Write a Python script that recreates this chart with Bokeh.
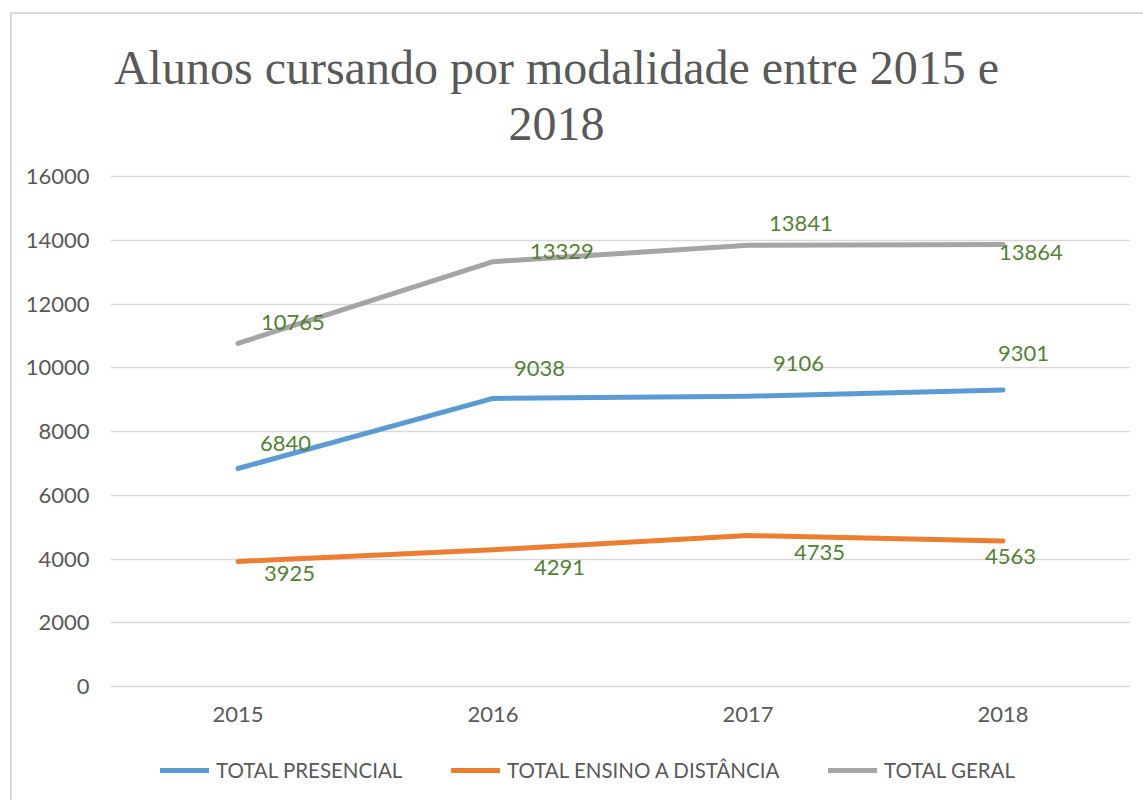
from bokeh.plotting import figure
from bokeh.models import (Range1d, FixedTicker, Label, LabelSet,
                          Legend, LegendItem, ColumnDataSource)
from bokeh.embed import file_html
from bokeh.resources import INLINE
from bokeh.core.properties import value

# ---------------- data ----------------
years = ["2015", "2016", "2017", "2018"]
presencial = [6840, 9038, 9106, 9301]
distancia = [3925, 4291, 4735, 4563]
geral = [10765, 13329, 13841, 13864]
series_names = ["TOTAL PRESENCIAL", "TOTAL ENSINO A DISTÂNCIA", "TOTAL GERAL"]
y_ticks = [0, 2000, 4000, 6000, 8000, 10000, 12000, 14000, 16000]
title_lines = ["Alunos cursando por modalidade entre 2015 e", "2018"]

# ---------------- style / layout ----------------
colors = ["#5B9BD5", "#ED7D31", "#A5A5A5"]
label_color = "#548235"
text_gray = "#595959"
# data-label offsets (px): left edge from point, and upward shift of label centre
label_dx = [[22, 21, 25, -5], [26, 41, 46, -18], [23, 37, 21, -4]]
label_dy = [[25, 30, 33, 37], [-12, -18, -17, -15], [21, 10, 22, -8]]

W, H = 1143, 800
ML, MR = 110, 13            # plot area left / right (px)
TOP_PX, ZERO_PX = 176, 686  # pixel rows of the top tick and of zero
frame_w = W - ML - MR
px_per_y = (ZERO_PX - TOP_PX) / y_ticks[-1]
px_per_x = frame_w / len(years)

def py_to_y(py):
    return (ZERO_PX - py) / px_per_y

def px_to_x(px):
    return -0.5 + (px - ML) / px_per_x

xs = list(range(len(years)))

p = figure(width=W, height=H,
           x_range=Range1d(-0.5, len(years) - 0.5),
           y_range=Range1d(py_to_y(H), py_to_y(0)),
           output_backend="svg", toolbar_location=None,
           min_border_left=ML, min_border_right=MR,
           min_border_top=0, min_border_bottom=0,
           styles={"background":
                   "linear-gradient(#D9D9D9, #D9D9D9) 10px 12px / calc(100% - 10px) 2px no-repeat, "
                   "linear-gradient(#D9D9D9, #D9D9D9) 10px 12px / 2px calc(100% - 12px) no-repeat, #FFFFFF"})
p.border_fill_color = None
p.background_fill_color = None
p.outline_line_color = None

# axes
for ax in (p.xaxis[0], p.yaxis[0]):
    ax.axis_line_color = None
    ax.major_tick_line_color = None
    ax.minor_tick_line_color = None
    ax.major_tick_out = 0
    ax.major_tick_in = 0
    ax.major_label_text_font = "Lato"
    ax.major_label_text_font_size = "22px"
    ax.major_label_text_color = text_gray
p.xaxis[0].fixed_location = 0
p.xaxis[0].ticker = FixedTicker(ticks=xs)
p.xaxis[0].major_label_overrides = {i: y for i, y in zip(xs, years)}
p.xaxis[0].major_label_standoff = 20
p.yaxis[0].major_label_standoff = 21
p.yaxis[0].ticker = FixedTicker(ticks=y_ticks)
p.xgrid.grid_line_color = None
p.ygrid.grid_line_color = "#D9D9D9"
p.ygrid.grid_line_width = 1.5

# lines
all_series = [presencial, distancia, geral]
renderers = []
for vals, col in zip(all_series, colors):
    r = p.line(xs, vals, line_color=col, line_width=5,
               line_cap="round", line_join="round")
    renderers.append(r)

# data labels
for vals, dx, dy in zip(all_series, label_dx, label_dy):
    src = ColumnDataSource(dict(x=xs, y=vals, text=[str(v) for v in vals],
                                dx=dx, dy=dy))
    ls = LabelSet(x="x", y="y", text="text", source=src,
                  x_offset="dx", y_offset="dy",
                  text_align="left", text_baseline="middle",
                  text_font=value("Lato"), text_font_size=value("22px"),
                  text_color=label_color)
    p.add_layout(ls)

# legend (one entry per legend box, laid out in a row under the axis)
legend_x = [50, 341, 718]
for r, name, lx in zip(renderers, series_names, legend_x):
    leg = Legend(items=[LegendItem(label=name, renderers=[r])],
                 location=(lx, 18), orientation="horizontal",
                 glyph_width=49, glyph_height=20, label_height=20,
                 label_standoff=7, padding=0, margin=0,
                 border_line_color=None, background_fill_alpha=0,
                 label_text_font="Lato", label_text_font_size="20.5px",
                 label_text_color=text_gray)
    p.add_layout(leg)

# title (two centred lines)
title_center_px = 556
title_baselines_px = [67, 123]
for txt, by in zip(title_lines, title_baselines_px):
    p.add_layout(Label(x=px_to_x(title_center_px), y=py_to_y(by),
                       text=txt, text_align="center", text_baseline="alphabetic",
                       text_font="Liberation Serif", text_font_size="48px",
                       text_color=text_gray))

open("out.html", "w").write(file_html(p, INLINE))
